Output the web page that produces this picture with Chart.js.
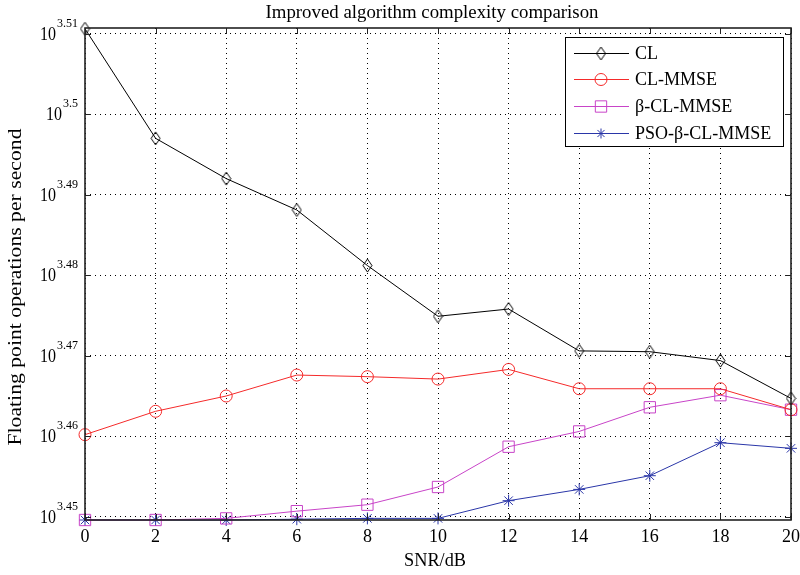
<!DOCTYPE html>
<html>
<head>
<meta charset="utf-8">
<script src="https://cdn.jsdelivr.net/npm/chart.js@4/dist/chart.umd.min.js"></script>
<style>
  html, body { margin: 0; padding: 0; background: #fff; }
  #wrap { width: 800px; height: 575px; }
</style>
</head>
<body>
<div id="wrap"><canvas id="c" width="800" height="575"></canvas></div>
<script>
// SNR in dB, values are log10 of flops (axis is 10^x)
const snr = [0, 2, 4, 6, 8, 10, 12, 14, 16, 18, 20];
const cl        = [3.5106, 3.4970, 3.4920, 3.4881, 3.4812, 3.4749, 3.4758, 3.4706, 3.4705, 3.4694, 3.4647];
const clMmse    = [3.4602, 3.4631, 3.4650, 3.4676, 3.4674, 3.4671, 3.4683, 3.4659, 3.4659, 3.4659, 3.4633];
const betaMmse  = [3.4496, 3.4496, 3.4498, 3.4507, 3.4515, 3.4537, 3.4587, 3.4606, 3.4636, 3.4651, 3.4633];
const psoMmse   = [3.4496, 3.4496, 3.4496, 3.4497, 3.4498, 3.4498, 3.4520, 3.4534, 3.4551, 3.4592, 3.4585];
const yTicks = [3.45, 3.46, 3.47, 3.48, 3.49, 3.50, 3.51];
const yTickLabels = ['3.45', '3.46', '3.47', '3.48', '3.49', '3.5', '3.51'];
const xTicks = [0, 2, 4, 6, 8, 10, 12, 14, 16, 18, 20];

const serif = '"Liberation Serif", "DejaVu Serif", serif';

// matlab-ish diamond, a bit taller than wide
const diamond = (() => {
  const c = document.createElement('canvas');
  c.width = 11; c.height = 15;
  const g = c.getContext('2d');
  g.strokeStyle = '#000'; g.lineWidth = 1;
  g.beginPath();
  g.moveTo(5.5, 1); g.lineTo(10, 7.5); g.lineTo(5.5, 14); g.lineTo(1, 7.5); g.closePath();
  g.stroke();
  return c;
})();

const mk = (label, data, color, style, r) => ({
  label,
  data: data.map((v, i) => ({x: snr[i], y: v})),
  borderColor: color,
  borderWidth: 1,
  pointStyle: style,
  pointRadius: r,
  pointBorderColor: color,
  pointBackgroundColor: 'rgba(0,0,0,0)',
  pointBorderWidth: 1,
  tension: 0,
  clip: false
});

const datasets = [
  mk('CL', cl, '#000000', diamond, 6),
  mk('CL-MMSE', clMmse, '#f52a2a', 'circle', 6),
  mk('\u03b2-CL-MMSE', betaMmse, '#c844c8', 'rect', 8),
  mk('PSO-\u03b2-CL-MMSE', psoMmse, '#2a36a8', 'star', 6)
];

// text drawn with a horizontal stretch so it spans a given width
function text(ctx, s, x, y, size, align, width) {
  ctx.save();
  ctx.font = size + 'px ' + serif;
  const w = ctx.measureText(s).width;
  const sx = width ? width / w : 1;
  ctx.translate(x, y);
  ctx.scale(sx, 1);
  ctx.textAlign = align;
  ctx.fillText(s, 0, 0);
  ctx.restore();
}

const matlabFrame = {
  id: 'matlabFrame',
  afterDraw(chart) {
    const {ctx, chartArea: a, scales} = chart;
    const xs = scales.x, ys = scales.y;
    ctx.save();
    ctx.strokeStyle = '#222';
    ctx.lineWidth = 1.6;
    ctx.strokeRect(a.left, a.top, a.right - a.left, a.bottom - a.top);
    ctx.lineWidth = 1;
    ctx.beginPath();
    xTicks.forEach(t => {
      const px = Math.round(xs.getPixelForValue(t)) + 0.5;
      ctx.moveTo(px, a.bottom); ctx.lineTo(px, a.bottom - 6);
      ctx.moveTo(px, a.top); ctx.lineTo(px, a.top + 6);
    });
    yTicks.forEach(t => {
      const py = Math.round(ys.getPixelForValue(t)) + 0.5;
      ctx.moveTo(a.left, py); ctx.lineTo(a.left + 6, py);
      ctx.moveTo(a.right, py); ctx.lineTo(a.right - 6, py);
    });
    ctx.stroke();

    ctx.fillStyle = '#000';
    ctx.textBaseline = 'alphabetic';
    xTicks.forEach(t => text(ctx, String(t), xs.getPixelForValue(t), a.bottom + 22, 18, 'center'));

    // y tick labels: 10^e
    yTicks.forEach((t, i) => {
      const py = ys.getPixelForValue(t);
      ctx.font = '12px ' + serif;
      const ew = ctx.measureText(yTickLabels[i]).width;
      text(ctx, yTickLabels[i], a.left - 7, py - 7, 12, 'right');
      text(ctx, '10', a.left - 8 - ew, py + 6, 18, 'right', 16);
    });

    text(ctx, 'Improved algorithm complexity comparison', (a.left + a.right) / 2 - 6, 18, 18, 'center', 333);
    text(ctx, 'SNR/dB', 435, 566, 18, 'center', 62);
    ctx.save();
    ctx.translate(21, 287);
    ctx.rotate(-Math.PI / 2);
    text(ctx, 'Floating point operations per second', 0, 0, 18, 'center', 317);
    ctx.restore();

    // legend box inside the axes
    const lx = 565, ly = 37, lw = 218, lh = 109;
    ctx.fillStyle = '#fff';
    ctx.fillRect(lx, ly, lw, lh);
    ctx.strokeStyle = '#000';
    ctx.lineWidth = 1;
    ctx.strokeRect(lx + 0.5, ly + 0.5, lw, lh);
    const rows = [53, 79, 106, 133];
    chart.data.datasets.forEach((ds, i) => {
      const y = rows[i] + 0.5;
      ctx.strokeStyle = ds.borderColor;
      ctx.lineWidth = 1;
      ctx.beginPath();
      ctx.moveTo(574, y); ctx.lineTo(629, y);
      ctx.stroke();
      ctx.fillStyle = 'rgba(0,0,0,0)';
      const r = ds.pointStyle === 'star' ? 5 : ds.pointRadius;
      Chart.helpers.drawPoint(ctx, {pointStyle: ds.pointStyle, radius: r, rotation: 0, borderWidth: 1}, 601, y);
      ctx.fillStyle = '#000';
      text(ctx, ds.label, 635, rows[i] + 6, 18, 'left');
    });
    ctx.restore();
  }
};

new Chart(document.getElementById('c'), {
  type: 'line',
  data: {datasets},
  options: {
    responsive: false,
    animation: false,
    layout: {padding: {top: 28, right: 9, left: 0, bottom: 0}},
    plugins: {legend: {display: false}, title: {display: false}, tooltip: {enabled: false}},
    elements: {line: {fill: false}},
    scales: {
      x: {
        type: 'linear', min: 0, max: 20,
        ticks: {display: false, stepSize: 2},
        afterBuildTicks: s => { s.ticks = xTicks.map(v => ({value: v})); },
        afterFit: s => { s.height = 55; },
        border: {display: false, dash: [1, 4]},
        grid: {color: '#000', lineWidth: 1, drawTicks: false}
      },
      y: {
        type: 'linear', min: 3.4496, max: 3.5107,
        ticks: {display: false},
        afterBuildTicks: s => { s.ticks = yTicks.map(v => ({value: v})); },
        afterFit: s => { s.width = 85; },
        border: {display: false, dash: [1, 4]},
        grid: {color: '#000', lineWidth: 1, drawTicks: false}
      }
    }
  },
  plugins: [matlabFrame]
});
</script>
</body>
</html>
